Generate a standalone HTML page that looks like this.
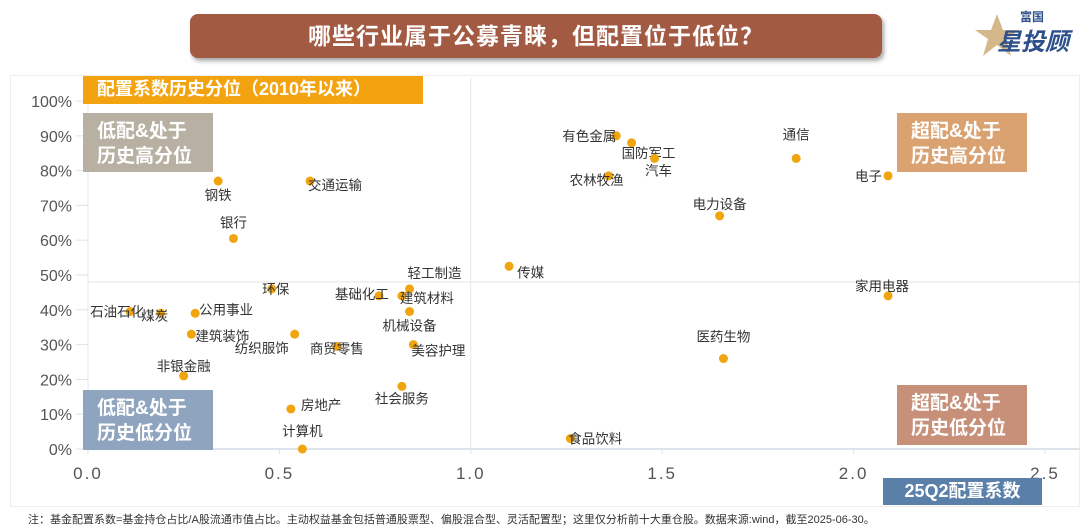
<!DOCTYPE html>
<html><head><meta charset="utf-8"><style>
body{margin:0;width:1080px;height:527px;background:#fff;overflow:hidden;font-family:"Liberation Sans","Noto Sans CJK SC",sans-serif;position:relative}
.box{position:absolute;color:#fff;font-weight:bold;font-size:19px;line-height:25px;padding:6px 0 0 14px;box-sizing:border-box}
</style></head><body>
<div style="position:absolute;left:190px;top:14px;width:692px;height:44px;background:#a35a42;border-radius:8px;box-shadow:2px 3px 4px rgba(0,0,0,0.35);color:#fff;font-weight:bold;font-size:23px;text-align:center;line-height:44px;letter-spacing:1px">哪些行业属于公募青睐，但配置位于低位？</div>
<div style="position:absolute;left:975px;top:8px;width:100px;height:50px">
<svg width="100" height="50"><polygon points="22,6 28,22 44,22 31,31 36,48 22,37 8,48 13,31 0,22 16,22" fill="#c9a66b" opacity="0.8"/></svg>
<div style="position:absolute;left:45px;top:0;font-size:12px;font-weight:bold;color:#2d4f8a">富国</div>
<div style="position:absolute;left:22px;top:14px;font-size:24px;font-weight:bold;font-style:italic;color:#2d4f8a">星投顾</div></div>
<div style="position:absolute;left:10px;top:75px;width:1068px;height:430px;border:1px solid #eee"></div>
<svg id="chart" width="1080" height="527" style="position:absolute;left:0;top:0"></svg>
<div class="box" style="left:83px;top:76px;width:340px;height:28px;background:#f2a30f;padding:1px 0 0 14px;font-size:18px">配置系数历史分位（2010年以来）</div>
<div class="box" style="left:83px;top:113px;width:130px;height:59px;background:#b8b0a2">低配&amp;处于<br>历史高分位</div>
<div class="box" style="left:897px;top:113px;width:130px;height:59px;background:#dba271">超配&amp;处于<br>历史高分位</div>
<div class="box" style="left:83px;top:390px;width:130px;height:60px;background:#8ea4bf">低配&amp;处于<br>历史低分位</div>
<div class="box" style="left:897px;top:385px;width:130px;height:60px;background:#c99079">超配&amp;处于<br>历史低分位</div>
<div class="box" style="left:883px;top:478px;width:159px;height:27px;background:#5a7fa9;padding:0;text-align:center;line-height:27px;font-size:18px">25Q2配置系数</div>
<div style="position:absolute;left:28px;top:511px;font-size:11px;color:#333;white-space:nowrap">注：基金配置系数=基金持仓占比/A股流通市值占比。主动权益基金包括普通股票型、偏股混合型、灵活配置型；这里仅分析前十大重仓股。数据来源:wind，截至2025-06-30。</div>
<script>
const names=["钢铁","交通运输","银行","环保","基础化工","轻工制造","建筑材料","机械设备","石油石化","煤炭","公用事业","建筑装饰","纺织服饰","商贸零售","美容护理","非银金融","房地产","计算机","社会服务","传媒","有色金属","国防军工","汽车","农林牧渔","通信","电力设备","电子","家用电器","医药生物","食品饮料"];
const xVals=[0.34,0.58,0.38,0.48,0.76,0.84,0.82,0.84,0.11,0.19,0.28,0.27,0.54,0.65,0.85,0.25,0.53,0.56,0.82,1.10,1.38,1.42,1.48,1.36,1.85,1.65,2.09,2.09,1.66,1.26];
const yVals=[77,77,60.5,46,44,46,44,39.5,39.5,39,39,33,33,29.5,30,21,11.5,0,18,52.5,90,88,83.5,78.5,83.5,67,78.5,44,26,3];
const xTicks=["0.0","0.5","1.0","1.5","2.0","2.5"];
const yTicks=["0%","10%","20%","30%","40%","50%","60%","70%","80%","90%","100%"];
const labelDx=[0,-4,0,4,12,-4,-4,0,-42,-6,2,2,-4,0,-4,0,8,0,0,6,2,-12,4,-12,0,0,-4,-6,0,-4];
const labelDy=[14,4,-16,0,-2,-16,2,14,0,2,-4,2,14,2,6,-10,-4,-18,12,6,0,10,12,4,-24,-12,0,-10,-22,0];
const labelAnchor=["middle","start","middle","middle","end","start","start","middle","start","middle","start","start","end","middle","start","middle","start","middle","middle","start","end","start","middle","middle","middle","middle","end","middle","middle","start"];
const NS="http://www.w3.org/2000/svg",svg=document.getElementById('chart');
const X0=88,X1=1045,Y0=449,Y1=101;
const sx=v=>X0+(v/2.5)*(X1-X0), sy=v=>Y0-(v/100)*(Y0-Y1);
function mk(t,a){const e=document.createElementNS(NS,t);for(const k in a)e.setAttribute(k,a[k]);svg.appendChild(e);return e;}
let e=mk('line',{x1:X0,y1:Y0,x2:X1+35,y2:Y0,stroke:'#dde3ea','stroke-width':2});


e=mk('line',{x1:X0,y1:Y0,x2:X0,y2:Y1,stroke:'#e3e8ee','stroke-width':1});


e=mk('line',{x1:X0,y1:sy(48),x2:X1+35,y2:sy(48),stroke:'#e6e6e6','stroke-width':1});


e=mk('line',{x1:sx(1),y1:78,x2:sx(1),y2:Y0,stroke:'#e6e6e6','stroke-width':1});


xTicks.forEach((t,i)=>{const x=sx(parseFloat(t));
 const l=mk('line',{x1:x,y1:Y0,x2:x,y2:Y0+5,stroke:'#dde3ea'});
 
 
 const s=mk('text',{x:x,y:Y0+30,'text-anchor':'middle','font-size':17,fill:'#555','letter-spacing':2});s.textContent=t;
 
 });
yTicks.forEach((t,i)=>{const y=sy(parseFloat(t));
 const s=mk('text',{x:72,y:y+6,'text-anchor':'end','font-size':16,fill:'#555'});s.textContent=t;
 
 
 const l=mk('line',{x1:76,y1:y,x2:X0,y2:y,stroke:'#dde3ea'});
 
 });
names.forEach((n,i)=>{const x=sx(xVals[i]),y=sy(yVals[i]);
 const c=mk('circle',{cx:x,cy:y,r:4.5,fill:'#f0a50f'});
 
 
 const t=mk('text',{x:x+labelDx[i]+(labelAnchor[i]=='start'?2:labelAnchor[i]=='end'?-2:0),y:y+labelDy[i]+5,'text-anchor':labelAnchor[i],'font-size':13.5,fill:'#333'});t.textContent=n;
 
 });
</script>
</body></html>
